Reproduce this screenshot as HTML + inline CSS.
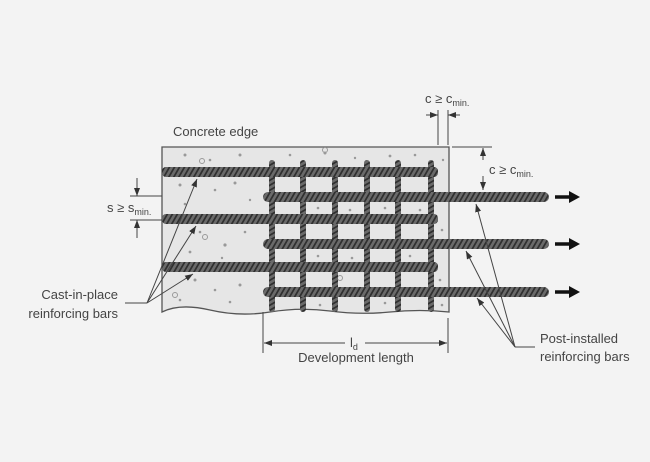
<!DOCTYPE html>
<html><head><meta charset="utf-8"><style>
body{margin:0;background:#f3f3f3;}
svg{display:block;font-family:"Liberation Sans",sans-serif;}
</style></head><body>
<svg width="650" height="462" viewBox="0 0 650 462">
<defs>
<pattern id="h" width="5" height="10" patternUnits="userSpaceOnUse" patternTransform="skewX(-30)">
<rect width="5" height="10" fill="#6a6a6a"/><rect width="2" height="10" fill="#303030"/>
</pattern>
<pattern id="v" width="6" height="5" patternUnits="userSpaceOnUse" patternTransform="skewY(-30)">
<rect width="6" height="5" fill="#6a6a6a"/><rect width="6" height="2" fill="#303030"/>
</pattern>
<marker id="a" markerWidth="8" markerHeight="6" refX="8" refY="3" orient="auto" markerUnits="userSpaceOnUse"><path d="M0,0L8,3L0,6z" fill="#333"/></marker>
</defs>
<rect width="650" height="462" fill="#f3f3f3"/>
<!-- concrete -->
<path d="M162,147H449V312Q420,309 390,312T330,311T270,312T210,310T162,312Z" fill="#e6e6e6" stroke="#555" stroke-width="1.3"/>
<g fill="#999">
<circle cx="185" cy="155" r="1.5"/><circle cx="210" cy="160" r="1.3"/><circle cx="240" cy="155" r="1.5"/><circle cx="290" cy="155" r="1.3"/><circle cx="325" cy="153" r="1.5"/><circle cx="355" cy="158" r="1.2"/><circle cx="390" cy="156" r="1.4"/><circle cx="415" cy="155" r="1.3"/><circle cx="443" cy="160" r="1.2"/>
<circle cx="180" cy="185" r="1.5"/><circle cx="215" cy="190" r="1.3"/><circle cx="235" cy="183" r="1.5"/><circle cx="250" cy="200" r="1.2"/><circle cx="185" cy="204" r="1.3"/>
<circle cx="200" cy="232" r="1.3"/><circle cx="225" cy="245" r="1.6"/><circle cx="245" cy="232" r="1.3"/><circle cx="190" cy="252" r="1.4"/><circle cx="222" cy="258" r="1.2"/>
<circle cx="195" cy="280" r="1.5"/><circle cx="215" cy="290" r="1.3"/><circle cx="240" cy="285" r="1.5"/><circle cx="180" cy="300" r="1.3"/><circle cx="230" cy="302" r="1.3"/>
<circle cx="318" cy="208" r="1.3"/><circle cx="350" cy="210" r="1.3"/><circle cx="385" cy="208" r="1.3"/><circle cx="420" cy="210" r="1.3"/><circle cx="318" cy="256" r="1.3"/><circle cx="352" cy="258" r="1.3"/><circle cx="410" cy="256" r="1.3"/><circle cx="320" cy="305" r="1.3"/><circle cx="385" cy="303" r="1.3"/><circle cx="442" cy="305" r="1.3"/><circle cx="442" cy="230" r="1.3"/><circle cx="440" cy="280" r="1.3"/>
</g>
<g fill="none" stroke="#999"><circle cx="202" cy="161" r="2.5"/><circle cx="325" cy="150" r="2.5"/><circle cx="205" cy="237" r="2.5"/><circle cx="175" cy="295" r="2.5"/><circle cx="340" cy="278" r="2.5"/></g>
<!-- vertical bars -->
<g fill="url(#v)">
<rect x="269" y="160" width="6" height="152" rx="3"/><rect x="300" y="160" width="6" height="152" rx="3"/><rect x="332" y="160" width="6" height="152" rx="3"/><rect x="364" y="160" width="6" height="152" rx="3"/><rect x="395" y="160" width="6" height="152" rx="3"/><rect x="428" y="160" width="6" height="152" rx="3"/>
</g>
<!-- cast-in bars -->
<g fill="url(#h)">
<rect x="162" y="167" width="276" height="10" rx="4"/><rect x="162" y="214" width="276" height="10" rx="4"/><rect x="162" y="262" width="276" height="10" rx="4"/>
<rect x="263" y="192" width="286" height="10" rx="5"/><rect x="263" y="239" width="286" height="10" rx="5"/><rect x="263" y="287" width="286" height="10" rx="5"/>
</g>
<!-- pull arrows -->
<g stroke="#111" stroke-width="3.5" fill="#111">
<line x1="555" y1="197" x2="570" y2="197"/><path d="M569,191L580,197L569,203z" stroke="none"/>
<line x1="555" y1="244" x2="570" y2="244"/><path d="M569,238L580,244L569,250z" stroke="none"/>
<line x1="555" y1="292" x2="570" y2="292"/><path d="M569,286L580,292L569,298z" stroke="none"/>
</g>
<g stroke="#444" stroke-width="1" fill="none">
<!-- top c -->
<line x1="438" y1="110" x2="438" y2="145"/><line x1="448" y1="110" x2="448" y2="145"/>
<line x1="426" y1="115" x2="438" y2="115" marker-end="url(#a)"/><line x1="460" y1="115" x2="448" y2="115" marker-end="url(#a)"/>
<!-- right c -->
<line x1="452" y1="147" x2="492" y2="147"/>
<line x1="483" y1="160" x2="483" y2="148" marker-end="url(#a)"/><line x1="483" y1="176" x2="483" y2="190" marker-end="url(#a)"/>
<!-- s -->
<line x1="130" y1="196" x2="162" y2="196"/><line x1="130" y1="220" x2="162" y2="220"/>
<line x1="137" y1="178" x2="137" y2="196" marker-end="url(#a)"/><line x1="137" y1="238" x2="137" y2="220" marker-end="url(#a)"/>
<!-- cast-in leaders -->
<line x1="125" y1="303" x2="147" y2="303"/>
<line x1="147" y1="303" x2="197" y2="179" marker-end="url(#a)"/><line x1="147" y1="303" x2="196" y2="226" marker-end="url(#a)"/><line x1="147" y1="303" x2="193" y2="274" marker-end="url(#a)"/>
<!-- post leaders -->
<line x1="515" y1="347" x2="535" y2="347"/>
<line x1="515" y1="347" x2="476" y2="204" marker-end="url(#a)"/><line x1="515" y1="347" x2="466" y2="251" marker-end="url(#a)"/><line x1="515" y1="347" x2="477" y2="298" marker-end="url(#a)"/>
<!-- development -->
<line x1="263" y1="312" x2="263" y2="353"/><line x1="448" y1="318" x2="448" y2="353"/>
<line x1="345" y1="343" x2="264" y2="343" marker-end="url(#a)"/><line x1="365" y1="343" x2="447" y2="343" marker-end="url(#a)"/>
</g>
<g fill="#444" font-size="13">
<text x="173" y="136">Concrete edge</text>
<text x="425" y="103">c ≥ c<tspan font-size="9" dy="3">min.</tspan></text>
<text x="489" y="174">c ≥ c<tspan font-size="9" dy="3">min.</tspan></text>
<text x="107" y="212">s ≥ s<tspan font-size="9" dy="3">min.</tspan></text>
<text x="118" y="299" text-anchor="end">Cast-in-place</text>
<text x="118" y="318" text-anchor="end">reinforcing bars</text>
<text x="540" y="343">Post-installed</text>
<text x="540" y="361">reinforcing bars</text>
<text x="350" y="347">l<tspan font-size="9" dy="3">d</tspan></text>
<text x="356" y="362" text-anchor="middle">Development length</text>
</g>
</svg>
</body></html>
